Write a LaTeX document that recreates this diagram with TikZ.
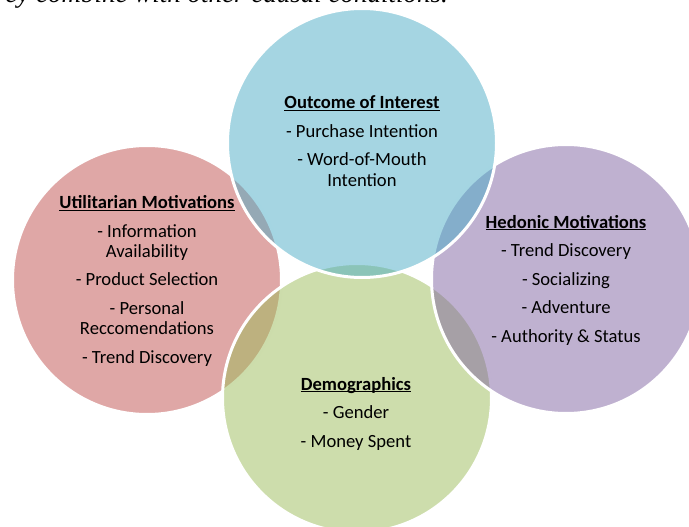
\documentclass[tikz,border=0pt]{standalone}
\usepackage{fontspec}
\setmainfont{Carlito}
\newfontfamily\cutserif{Liberation Serif}
\definecolor{vblue}{HTML}{4BACC6}
\definecolor{vred}{HTML}{C0504D}
\definecolor{vgreen}{HTML}{9BBB59}
\definecolor{vpurple}{HTML}{8064A2}
\tikzset{
  venn/.style={circle, minimum size=269pt, inner sep=0pt, outer sep=0pt,
    draw=white, line width=3pt, fill opacity=0.5, draw opacity=1},
  vlabel/.style={align=center, anchor=base, inner sep=0pt,
    font=\fontsize{18.6}{20.2}\selectfont, text=black},
}
\newcommand\uhead[1]{\setbox0\hbox{\bfseries #1}\rlap{\copy0}\rule[-2.3pt]{\wd0}{1.3pt}}
\begin{document}
\begin{tikzpicture}[x=1pt,y=-1pt]
\useasboundingbox (0,0) rectangle (689,527);
\node[venn, fill=vred] (util) at (147,280) {};
\node[venn, fill=vgreen] (demo) at (357,398) {};
\node[venn, fill=vpurple] (hedo) at (566,279) {};
\node[venn, fill=vblue] (outc) at (362,143) {};
\node[vlabel] (outct) at (362,186) {\uhead{Outcome of Interest}\\[8.3pt]- Purchase Intention\\[8.3pt]- Word-of-Mouth\\Intention};
\node[vlabel] (utilt) at (147,363) {\uhead{Utilitarian Motivations}\\[8.3pt]- Information\\Availability\\[8.3pt]- Product Selection\\[8.3pt]- Personal\\Reccomendations\\[8.3pt]- Trend Discovery};
\node[vlabel] (hedot) at (566,342) {\uhead{Hedonic Motivations}\\[8.3pt]- Trend Discovery\\[8.3pt]- Socializing\\[8.3pt]- Adventure\\[8.3pt]- Authority \& Status};
\node[vlabel] (demot) at (356,447) {\uhead{Demographics}\\[8.3pt]- Gender\\[8.3pt]- Money Spent};
\node[anchor=base east, inner sep=0pt, font=\fontsize{27}{30}\selectfont\cutserif\itshape] (cut) at (448,2.5) {ey combine with other causal conditions.};
\end{tikzpicture}
\end{document}
